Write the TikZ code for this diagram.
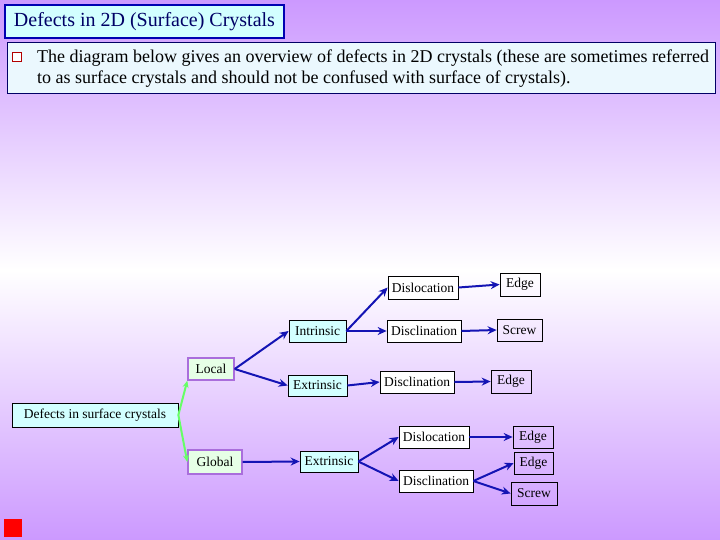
\documentclass[tikz,border=0pt]{standalone}
\usepackage{fontspec}
\setmainfont{Liberation Serif}
\usetikzlibrary{arrows.meta}
\definecolor{bgp}{RGB}{204,153,255}
\definecolor{arr}{RGB}{20,20,180}
\definecolor{lcyan}{RGB}{210,255,255}
\definecolor{lgreen}{RGB}{230,255,230}
\definecolor{bord}{RGB}{170,110,220}
\begin{document}
\begin{tikzpicture}[x=1pt,y=-1pt,
  bx/.style={draw=black,line width=0.7pt,inner sep=0pt,font=\fontsize{13.5}{15}\selectfont},
  wb/.style={bx,fill=white},
  cb/.style={bx,fill=lcyan},
  gb/.style={bx,fill=lgreen,draw=bord,line width=1.4pt},
  ar/.style={draw=arr,line width=2pt,-{Stealth[length=9pt,width=8pt]}},
  ga/.style={draw=green!60!white,line width=2pt,-{Stealth[length=7pt,width=6pt]}}]
\useasboundingbox (0,0) rectangle (720,540);
\shade[top color=bgp,bottom color=white] (0,0) rectangle (720,270);
\shade[top color=white,bottom color=bgp] (0,270) rectangle (720,540);
% title
\node[draw=blue!70!black,line width=1.5pt,fill=lcyan,minimum width=279,minimum height=33,inner sep=0pt,text=blue!40!black,font=\fontsize{20}{22}\selectfont] (title) at (144.5,21.5) {Defects in 2D (Surface) Crystals};
\node[draw=blue!40!black,line width=1pt,fill=white!92!cyan,minimum width=708,minimum height=51,inner sep=0pt] (intro) at (361,68.5) {};
\node[anchor=west,inner sep=0pt,align=left,font=\fontsize{18}{21}\selectfont] (introtxt) at (37,68.5) {The diagram below gives an overview of defects in 2D crystals (these are sometimes referred\\to as surface crystals and should not be confused with surface of crystals).};
\node[draw=red!70!black,fill=white,line width=1pt,minimum size=9pt,inner sep=0pt] (bul) at (17,57) {};
% diagram nodes
\node[cb,minimum width=166,minimum height=24] (root) at (95,415) {Defects in surface crystals};
\node[gb,minimum width=46,minimum height=22] (local) at (211,369) {Local};
\node[gb,minimum width=54,minimum height=24] (global) at (215,462) {Global};
\node[cb,minimum width=57,minimum height=22] (intr) at (317.5,331) {Intrinsic};
\node[cb,minimum width=59,minimum height=21] (extr) at (317.5,385.5) {Extrinsic};
\node[cb,minimum width=58,minimum height=21] (extr2) at (329,461.5) {Extrinsic};
\node[wb,minimum width=70,minimum height=23] (dislo) at (423,287.5) {Dislocation};
\node[wb,minimum width=74,minimum height=22] (discl) at (424,331) {Disclination};
\node[wb,minimum width=74,minimum height=22] (discl2) at (417,382) {Disclination};
\node[bx,minimum width=40,minimum height=23] (e1) at (520,284.5) {Edge};
\node[bx,minimum width=45,minimum height=22] (s1) at (519.5,330) {Screw};
\node[bx,minimum width=40,minimum height=23] (e2) at (511,381.5) {Edge};
\node[wb,minimum width=70,minimum height=22] (dislo3) at (434,437) {Dislocation};
\node[wb,minimum width=74,minimum height=22] (discl3) at (436,481) {Disclination};
\node[bx,minimum width=40,minimum height=22] (e3) at (533,437) {Edge};
\node[bx,minimum width=39,minimum height=22] (e4) at (533.5,463) {Edge};
\node[bx,minimum width=46,minimum height=23] (s2) at (534,493.5) {Screw};
\node[fill=red,minimum size=18,inner sep=0pt] (sq) at (13,528) {};
% connectors
\draw[ga] (root.east) -- (local.south west);
\draw[ga] (root.east) -- (global.west);
\draw[ar] (local.east) -- (intr.west);
\draw[ar] (local.east) -- (extr.west);
\draw[ar] (intr.east) -- (dislo.west);
\draw[ar] (intr.east) -- (discl.west);
\draw[ar] (extr.east) -- (discl2.west);
\draw[ar] (dislo.east) -- (e1.west);
\draw[ar] (discl.east) -- (s1.west);
\draw[ar] (discl2.east) -- (e2.west);
\draw[ar] (global.east) -- (extr2.west);
\draw[ar] (extr2.east) -- (dislo3.west);
\draw[ar] (extr2.east) -- (discl3.west);
\draw[ar] (dislo3.east) -- (e3.west);
\draw[ar] (discl3.east) -- (e4.west);
\draw[ar] (discl3.east) -- (s2.west);
\end{tikzpicture}
\end{document}
